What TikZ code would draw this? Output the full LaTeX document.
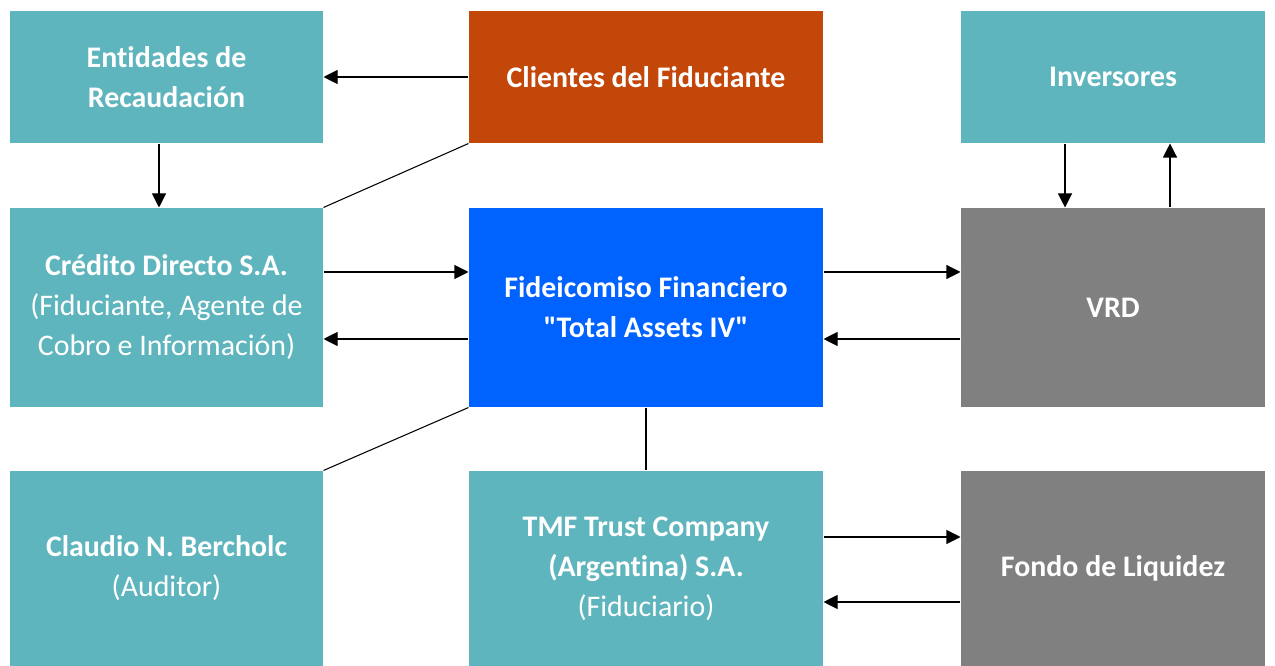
\documentclass[tikz,border=0pt]{standalone}
\usepackage{fontspec}
\setmainfont{Carlito}[Ligatures=NoCommon]
\usetikzlibrary{arrows.meta}
\definecolor{boxteal}{HTML}{5FB5BD}
\definecolor{clientorange}{HTML}{C4470A}
\definecolor{fideblue}{HTML}{0062FF}
\definecolor{vrdgray}{HTML}{808080}

\begin{document}
\begin{tikzpicture}[
  >={Triangle[length=0.28cm,width=0.28cm]},
  line width=0.6pt,
  box/.style={fill=boxteal,text=white,align=center,inner sep=0,font=\fontsize{17}{22.8}\selectfont},
  toprow/.style={box,minimum height=2.64cm},
  midrow/.style={box,minimum height=3.98cm},
  lowrow/.style={box,minimum height=3.9cm}
  ]

  \useasboundingbox (0, 0) rectangle (25.5, -13.32);

  % top row
  \node [toprow,minimum width=6.26cm] (entidades) at (3.33, -1.54) {\textbf{Entidades de}\\\textbf{Recaudación}};
  \node [toprow,minimum width=7.08cm,fill=clientorange] (clientes) at (12.92, -1.54) {\textbf{Clientes del Fiduciante}};
  \node [toprow,minimum width=6.08cm] (inversores) at (22.26, -1.54) {\textbf{Inversores}};

  % middle row
  \node [midrow,minimum width=6.26cm] (credito) at (3.33, -6.15) {\textbf{Crédito Directo S.A.}\\(Fiduciante, Agente de\\Cobro e Información)};
  \node [midrow,minimum width=7.08cm,fill=fideblue] (fideicomiso) at (12.92, -6.15) {\textbf{Fideicomiso Financiero}\\\textbf{\textquotedbl Total Assets IV\textquotedbl}};
  \node [midrow,minimum width=6.08cm,fill=vrdgray] (vrd) at (22.26, -6.15) {\textbf{VRD}};

  % bottom row
  \node [lowrow,minimum width=6.26cm] (claudio) at (3.33, -11.37) {\textbf{Claudio N. Bercholc}\\(Auditor)};
  \node [lowrow,minimum width=7.08cm] (tmf) at (12.92, -11.37) {\textbf{TMF Trust Company}\\\textbf{(Argentina) S.A.}\\(Fiduciario)};
  \node [lowrow,minimum width=6.08cm,fill=vrdgray] (fondo) at (22.26, -11.37) {\textbf{Fondo de Liquidez}};

  \draw[->] (clientes.west) -- (entidades.east);
  \draw[->] ([xshift=-0.15cm]entidades.south) -- ([xshift=-0.15cm]credito.north);
  \draw (clientes.south west) -- (credito.north east);

  \draw[->] ([yshift=0.71cm]credito.east) -- ([yshift=0.71cm]fideicomiso.west);
  \draw[->] ([yshift=-0.63cm]fideicomiso.west) -- ([yshift=-0.63cm]credito.east);
  \draw (fideicomiso.south west) -- (claudio.north east);
  \draw (fideicomiso.south) -- (tmf.north);

  \draw[->] ([yshift=0.71cm]fideicomiso.east) -- ([yshift=0.71cm]vrd.west);
  \draw[->] ([yshift=-0.63cm]vrd.west) -- ([yshift=-0.63cm]fideicomiso.east);
  \draw[->] ([xshift=-0.96cm]inversores.south) -- ([xshift=-0.96cm]vrd.north);
  \draw[->] ([xshift=1.14cm]vrd.north) -- ([xshift=1.14cm]inversores.south);

  \draw[->] ([yshift=0.63cm]tmf.east) -- ([yshift=0.63cm]fondo.west);
  \draw[->] ([yshift=-0.67cm]fondo.west) -- ([yshift=-0.67cm]tmf.east);

\end{tikzpicture}
\end{document}
